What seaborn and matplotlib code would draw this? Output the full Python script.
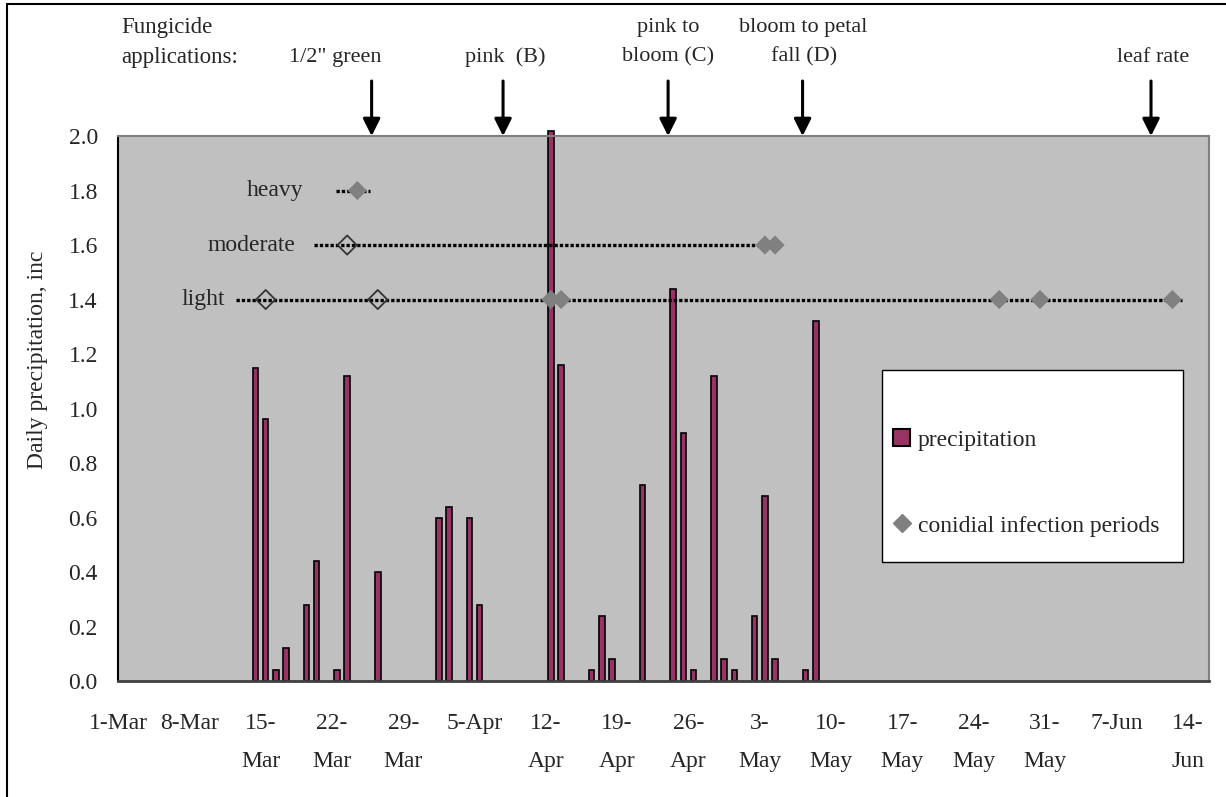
import matplotlib
matplotlib.use("Agg")
import matplotlib.pyplot as plt
from matplotlib.lines import Line2D
from matplotlib.patches import Patch, Rectangle
import pandas as pd
import seaborn as sns

# season starts 1-Mar, x axis in days since then
season_year = "2000"
season_start = "1-Mar"

# daily precipitation, inches
precip_dates = ["14-Mar", "15-Mar", "16-Mar", "17-Mar", "19-Mar", "20-Mar", "22-Mar", "23-Mar",
                "26-Mar", "1-Apr", "2-Apr", "4-Apr", "5-Apr", "12-Apr", "13-Apr", "16-Apr",
                "17-Apr", "18-Apr", "21-Apr", "24-Apr", "25-Apr", "26-Apr", "28-Apr", "29-Apr",
                "30-Apr", "2-May", "3-May", "4-May", "7-May", "8-May"]
precip_in = [1.15, 0.96, 0.04, 0.12, 0.28, 0.44, 0.04, 1.12,
             0.40, 0.60, 0.64, 0.60, 0.28, 2.02, 1.16, 0.04,
             0.24, 0.08, 0.72, 1.44, 0.91, 0.04, 1.12, 0.08,
             0.04, 0.24, 0.68, 0.08, 0.04, 1.32]

# conidial infection periods
severity_names = ["light", "moderate", "heavy"]
severity_level = [1.4, 1.6, 1.8]
infection_dates = ["15-Mar", "26-Mar", "12-Apr", "13-Apr", "26-May", "30-May", "12-Jun",
                   "23-Mar", "3-May", "4-May",
                   "24-Mar"]
infection_severity = ["light"] * 7 + ["moderate"] * 3 + ["heavy"]
infection_open = [True, True, False, False, False, False, False,
                  True, False, False,
                  False]
# extent of the dotted line for each severity (days after 1-Mar)
period_from = [11.6, 19.2, 21.4]
period_to = [104.4, 64.4, 24.7]

# fungicide applications
spray_labels = ["1/2\" green", "pink  (B)", "pink to\nbloom (C)", "bloom to petal\nfall (D)", "leaf rate"]
spray_arrow_day = [24.9, 37.8, 54.0, 67.2, 101.4]
spray_label_day = [21.3, 38.0, 54.0, 67.3, 101.6]

tick_dates = ["1-Mar", "8-Mar", "15-Mar", "22-Mar", "29-Mar", "5-Apr", "12-Apr", "19-Apr",
              "26-Apr", "3-May", "10-May", "17-May", "24-May", "31-May", "7-Jun", "14-Jun"]
tick_labels = ["1-Mar", "8-Mar", "15-\nMar", "22-\nMar", "29-\nMar", "5-Apr", "12-\nApr", "19-\nApr",
               "26-\nApr", "3-\nMay", "10-\nMay", "17-\nMay", "24-\nMay", "31-\nMay", "7-Jun", "14-\nJun"]

FS = 17


def day_of(dates):
    d = pd.to_datetime([s + "-" + season_year for s in dates], format="%d-%b-%Y")
    start = pd.to_datetime(season_start + "-" + season_year, format="%d-%b-%Y")
    return [(x - start).days for x in d]


sns.set_style("white")
plt.rcParams["font.family"] = ["Liberation Serif", "DejaVu Serif"]
plt.rcParams["font.size"] = FS

fig = plt.figure(figsize=(12.26, 7.97), dpi=100)
ax = fig.add_axes([0.0962, 0.1455, 0.890, 0.6838])
ax.set_facecolor("#C0C0C0")

bar_x = [d + 0.5 for d in day_of(precip_dates)]
sns.barplot(x=bar_x, y=precip_in, native_scale=True, width=0.55, color="#993366",
            saturation=1, edgecolor="black", linewidth=1.2, errorbar=None, ax=ax)
for p in ax.patches:
    p.set_clip_on(False)

# dotted period lines
for name, lvl, a, b in zip(severity_names, severity_level, period_from, period_to):
    ax.plot([a, b], [lvl, lvl], color="black", lw=2.4, linestyle=(0, (1, 0.6)), zorder=3)

inf = pd.DataFrame({"day": [d + 0.5 for d in day_of(infection_dates)],
                    "severity": infection_severity, "open": infection_open})
inf["y"] = inf["severity"].map(dict(zip(severity_names, severity_level)))
filled = inf[~inf["open"]]
hollow = inf[inf["open"]]
sns.scatterplot(data=filled, x="day", y="y", marker="D", s=95, color="#808080",
                edgecolor="none", zorder=4, ax=ax)
ax.scatter(hollow["day"], hollow["y"], marker="D", s=95, facecolors="none",
           edgecolors="#333333", linewidths=1.3, zorder=4)

# severity names
name_day = [10.5, 17.4, 18.2]
for name, lvl, xd in zip(severity_names, severity_level, name_day):
    ax.text(xd, lvl, name, ha="right", va="center", fontsize=FS)

# fungicide arrows and labels
for xd in spray_arrow_day:
    ax.annotate("", xy=(xd, 2.0), xytext=(xd, 2.202), xycoords="data",
                arrowprops=dict(arrowstyle="-|>", color="black", lw=2.2,
                                mutation_scale=26, shrinkA=0, shrinkB=0),
                annotation_clip=False)
for lab, xd in zip(spray_labels, spray_label_day):
    lines = lab.split("\n")[::-1]
    for i, ln in enumerate(lines):
        ax.text(xd, 2.29 + i * 0.11, ln, ha="center", va="center", fontsize=16, clip_on=False)
ax.text(0.3, 2.40, "Fungicide", ha="left", va="center", fontsize=16.5, clip_on=False)
ax.text(0.3, 2.29, "applications:", ha="left", va="center", fontsize=16.5, clip_on=False)

ax.set_xlim(0, 107.1)
ax.set_ylim(0, 2.0)
ax.set_xticks(day_of(tick_dates))
ax.set_xticklabels(tick_labels, linespacing=2.05)
ax.set_yticks([0.0, 0.2, 0.4, 0.6, 0.8, 1.0, 1.2, 1.4, 1.6, 1.8, 2.0])
ax.set_yticklabels([f"{v:.1f}" for v in ax.get_yticks()])
ax.tick_params(axis="x", direction="inout", length=13, width=1, color="#333333", pad=16.5, labelsize=FS)
ax.tick_params(axis="y", direction="inout", length=13, width=1, color="black", pad=8, labelsize=FS)
ax.set_xlabel("")
ax.set_ylabel("Daily precipitation, inc", fontsize=FS)
ax.yaxis.set_label_coords(-0.064, 0.59)

for side in ["top", "right"]:
    ax.spines[side].set_color("#808080")
    ax.spines[side].set_linewidth(1.5)
ax.spines["left"].set_color("black")
ax.spines["left"].set_linewidth(1.5)
ax.spines["bottom"].set_color("#404040")
ax.spines["bottom"].set_linewidth(2)

# legend box drawn by hand, entries by ax.legend without frame
ax.add_patch(Rectangle((0.7003, 0.2183), 0.2758, 0.3523, transform=ax.transAxes,
                       facecolor="white", edgecolor="black", lw=1, zorder=4.5, clip_on=False))
handles = [Patch(facecolor="#993366", edgecolor="black", linewidth=1.5),
           Line2D([], [], marker="D", color="#808080", linestyle="none", markersize=9.5)]
leg = ax.legend(handles, ["precipitation", "conidial infection periods"],
                loc="center left", bbox_to_anchor=(0.7104, 0.3633), frameon=False,
                labelspacing=2.72, borderpad=0, handlelength=0.72, handletextpad=0.34,
                borderaxespad=0, fontsize=FS)
leg.set_zorder(6)

# chart border
fig.add_artist(Line2D([0.0057, 0.0057], [0, 0.995], color="black", lw=1.5))
fig.add_artist(Line2D([0.0057, 1], [0.995, 0.995], color="black", lw=1.5))

fig.savefig("out.png", dpi=100)
